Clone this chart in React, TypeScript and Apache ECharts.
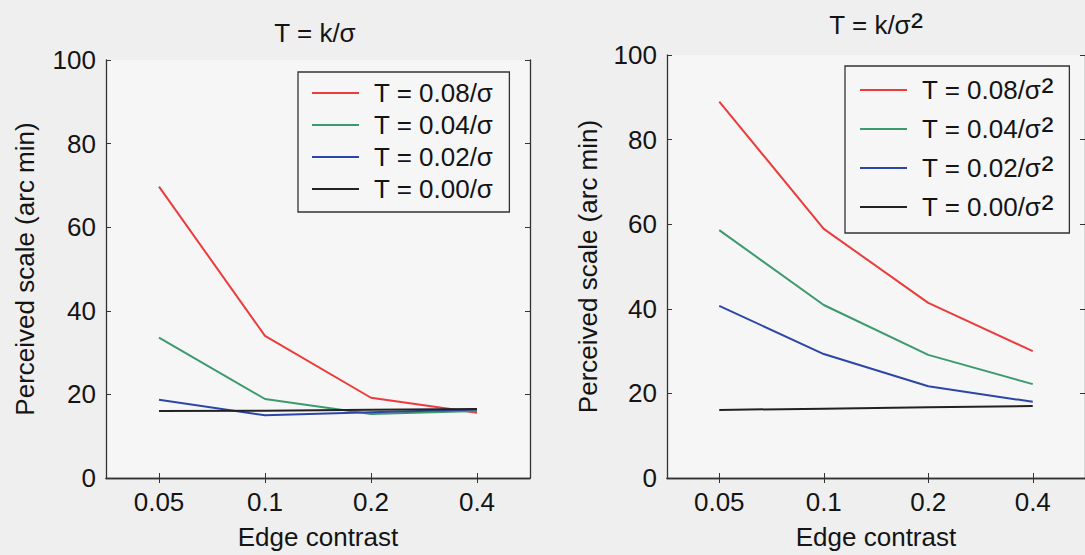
import React, { useEffect, useRef } from "react";
import * as echarts from "echarts";

const categories = ["0.05", "0.1", "0.2", "0.4"];
const yTicks = { min: 0, max: 100, interval: 20 };

const leftNames = ["T = 0.08/σ", "T = 0.04/σ", "T = 0.02/σ", "T = 0.00/σ"];
const rightNames = ["T = 0.08/σ²", "T = 0.04/σ²", "T = 0.02/σ²", "T = 0.00/σ²"];

const leftRed = [69.7, 34.0, 19.2, 15.6];
const leftGreen = [33.6, 18.9, 15.3, 16.0];
const leftBlue = [18.7, 15.0, 15.7, 16.4];
const leftBlack = [16.0, 16.1, 16.3, 16.5];

const rightRed = [89.0, 58.9, 41.4, 30.0];
const rightGreen = [58.6, 40.9, 29.1, 22.2];
const rightBlue = [40.7, 29.3, 21.7, 18.0];
const rightBlack = [16.1, 16.4, 16.7, 17.0];

const colors = ["#ec3b3b", "#3c9a6e", "#2c45a8", "#222222"];

const FONT = "Liberation Sans";
const FS = 26;
const SUP = 36;
const AXIS_COLOR = "#333333";
const TEXT_COLOR = "#141414";

function xAxes(gridIndex: number, nameGap: number) {
  const common = {
    type: "category" as const,
    gridIndex,
    data: categories,
    boundaryGap: true,
    axisLine: { show: true, lineStyle: { color: AXIS_COLOR, width: 1.3 } },
    axisTick: { show: true, inside: true, length: 5, alignWithLabel: true, lineStyle: { color: AXIS_COLOR } },
    splitLine: { show: false },
  };
  return [
    {
      ...common,
      position: "bottom",
      name: "Edge contrast",
      nameLocation: "middle",
      nameGap,
      nameTextStyle: { fontFamily: FONT, fontSize: FS, color: TEXT_COLOR },
      axisLabel: { show: true, margin: 11, fontFamily: FONT, fontSize: FS, color: TEXT_COLOR },
    },
    {
      ...common,
      position: "top",
      axisLabel: { show: false },
    },
  ];
}

function yAxes(gridIndex: number, nameGap: number) {
  const common = {
    type: "value" as const,
    gridIndex,
    min: yTicks.min,
    max: yTicks.max,
    interval: yTicks.interval,
    axisLine: { show: true, lineStyle: { color: AXIS_COLOR, width: 1.3 } },
    axisTick: { show: true, inside: true, length: 5, lineStyle: { color: AXIS_COLOR } },
    splitLine: { show: false },
  };
  return [
    {
      ...common,
      position: "left",
      name: "Perceived scale (arc min)",
      nameLocation: "middle",
      nameGap,
      nameTextStyle: { fontFamily: FONT, fontSize: FS, color: TEXT_COLOR },
      axisLabel: { show: true, margin: 10, fontFamily: FONT, fontSize: FS, color: TEXT_COLOR },
    },
    {
      ...common,
      position: "right",
      axisLabel: { show: false },
    },
  ];
}

function makeSeries(names: string[], data: number[][], xi: number, yi: number) {
  return names.map((name, i) => ({
    type: "line" as const,
    name,
    xAxisIndex: xi,
    yAxisIndex: yi,
    data: data[i],
    showSymbol: false,
    symbol: "none",
    lineStyle: { color: colors[i], width: 2 },
    itemStyle: { color: colors[i] },
    z: 3,
  }));
}

const legendIcon = "path://M0,0H47V2H0Z M57,0H57.01V2H57Z";

export default function App() {
  const ref = useRef<HTMLDivElement>(null);
  useEffect(() => {
    if (!ref.current) return;
    const chart = echarts.init(ref.current, undefined, { renderer: "svg" });
    const option: any = {
      animation: false,
      backgroundColor: "#efefef",
      title: [
        {
          text: "T = k/σ",
          left: 315,
          top: 20,
          padding: 0,
          textAlign: "center",
          textStyle: { fontFamily: FONT, fontSize: FS, fontWeight: "normal", color: TEXT_COLOR, lineHeight: 26 },
        },
        {
          text: "T = k/σ{s|²}",
          left: 876,
          top: 12,
          padding: 0,
          textAlign: "center",
          textStyle: {
            fontFamily: FONT,
            fontSize: FS,
            fontWeight: "normal",
            color: TEXT_COLOR,
            lineHeight: 26,
            rich: { s: { fontFamily: FONT, fontSize: SUP, color: TEXT_COLOR, lineHeight: 26 } },
          },
        },
      ],
      grid: [
        { left: 106, top: 60, width: 424, height: 422, show: true, backgroundColor: "#f6f6f6", borderWidth: 0 },
        { left: 667, top: 55, width: 425, height: 423, show: true, backgroundColor: "#f6f6f6", borderWidth: 0 },
      ],
      xAxis: [...xAxes(0, 46), ...xAxes(1, 46)],
      yAxis: [...yAxes(0, 68), ...yAxes(1, 66)],
      legend: [
        {
          data: leftNames,
          orient: "vertical",
          left: 298,
          top: 72,
          padding: [8, 16, 10, 14],
          itemGap: 6,
          itemWidth: 57,
          itemHeight: 2,
          icon: legendIcon,
          backgroundColor: "#f6f6f6",
          borderColor: AXIS_COLOR,
          borderWidth: 1.3,
          selectedMode: false,
          textStyle: { fontFamily: FONT, fontSize: FS, color: TEXT_COLOR, lineHeight: 26 },
        },
        {
          data: rightNames,
          orient: "vertical",
          left: 845,
          top: 66,
          padding: [6, 16, 8, 15],
          itemGap: 3,
          itemWidth: 57,
          itemHeight: 2,
          icon: legendIcon,
          backgroundColor: "#f6f6f6",
          borderColor: AXIS_COLOR,
          borderWidth: 1.3,
          selectedMode: false,
          formatter: (name: string) => name.replace("²", "{s|²}"),
          textStyle: {
            fontFamily: FONT,
            fontSize: FS,
            color: TEXT_COLOR,
            lineHeight: 26,
            rich: { s: { fontFamily: FONT, fontSize: SUP, color: TEXT_COLOR, lineHeight: 26 } },
          },
        },
      ],
      series: [
        ...makeSeries(leftNames, [leftRed, leftGreen, leftBlue, leftBlack], 0, 0),
        ...makeSeries(rightNames, [rightRed, rightGreen, rightBlue, rightBlack], 2, 2),
      ],
    };
    chart.setOption(option);
    return () => chart.dispose();
  }, []);
  return (
    <div
      ref={ref}
      style={{ position: "absolute", left: 0, top: 0, width: 1085, height: 555 }}
    />
  );
}
